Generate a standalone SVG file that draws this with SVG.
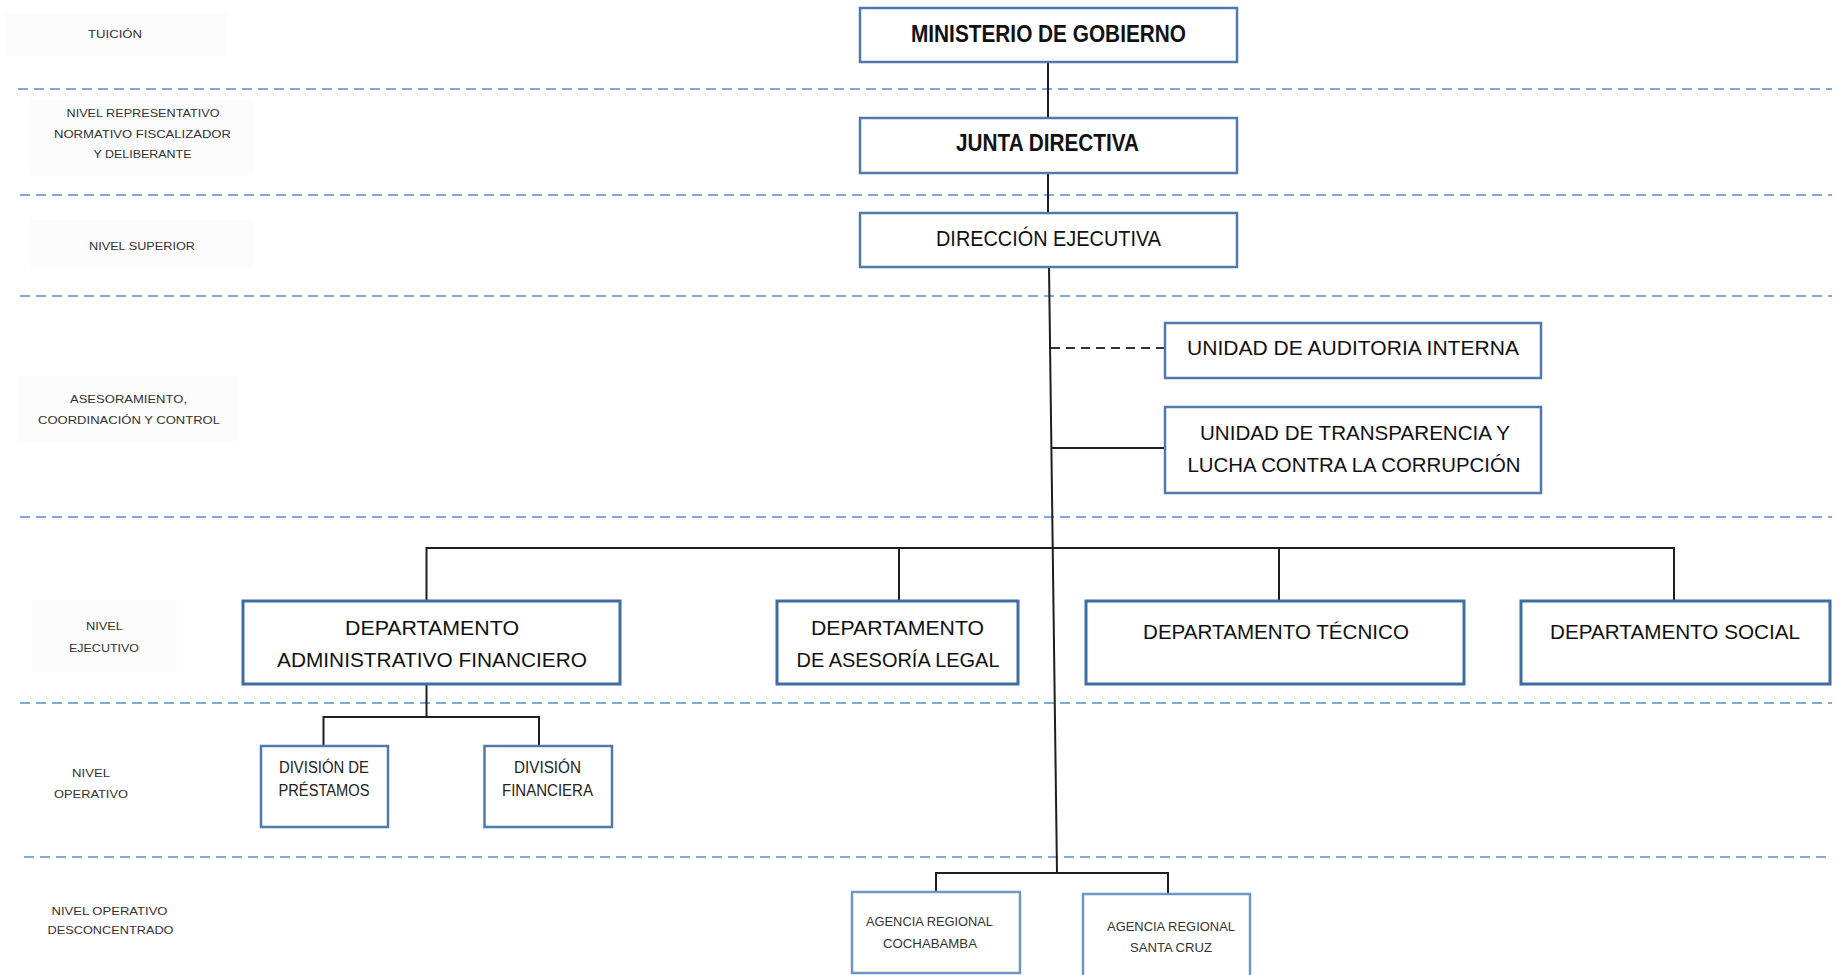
<svg xmlns="http://www.w3.org/2000/svg" width="1835" height="975" viewBox="0 0 1835 975">
<style>
.bg{fill:#ffffff}
.lvl{stroke:#7eabdd;stroke-width:2.2;stroke-dasharray:10 6;fill:none}
.lblbg{fill:#fcfcfc}
.lbl{font-family:"Liberation Sans",Arial,sans-serif;font-size:11.5px;fill:#333;text-anchor:middle}
.box{fill:#ffffff;stroke:#4f7aab;stroke-width:2.5}
.boxd{fill:#ffffff;stroke:#3e6da3;stroke-width:3}
.boxl{fill:#ffffff;stroke:#6f97c6;stroke-width:2.5}
.t{font-family:"Liberation Sans",Arial,sans-serif;fill:#111;text-anchor:middle}
.tb{font-size:23px;font-weight:bold}
.tm{font-size:22.5px}
.td{font-size:21px}
.ts{font-size:16px;fill:#222}
.tx{font-size:13px;fill:#333}
.c{stroke:#1e1e1e;stroke-width:2;fill:none}
.cd{stroke:#333;stroke-width:2;stroke-dasharray:9 6;fill:none}
</style>
<rect class="bg" x="0" y="0" width="1835" height="975"/>

<g id="levels">
<rect class="lblbg" x="5" y="13" width="222" height="43"/>
<rect class="lblbg" x="30" y="100" width="223" height="75"/>
<rect class="lblbg" x="30" y="220" width="223" height="50"/>
<rect class="lblbg" x="18" y="377" width="220" height="65"/>
<rect class="lblbg" x="32" y="600" width="145" height="72"/>
<line class="lvl" x1="18" y1="89" x2="1832" y2="89"/>
<line class="lvl" x1="20" y1="195" x2="1832" y2="195"/>
<line class="lvl" x1="20" y1="296" x2="1832" y2="296"/>
<line class="lvl" x1="20" y1="517" x2="1832" y2="517"/>
<line class="lvl" x1="20" y1="703" x2="1832" y2="703"/>
<line class="lvl" x1="24" y1="857" x2="1832" y2="857"/>
<text class="lbl" x="115" y="38" textLength="54" lengthAdjust="spacingAndGlyphs">TUICIÓN</text>
<text class="lbl" x="143" y="117" textLength="153" lengthAdjust="spacingAndGlyphs">NIVEL REPRESENTATIVO</text>
<text class="lbl" x="142.5" y="138" textLength="177" lengthAdjust="spacingAndGlyphs">NORMATIVO FISCALIZADOR</text>
<text class="lbl" x="142.5" y="158" textLength="98" lengthAdjust="spacingAndGlyphs">Y DELIBERANTE</text>
<text class="lbl" x="142" y="250" textLength="106" lengthAdjust="spacingAndGlyphs">NIVEL SUPERIOR</text>
<text class="lbl" x="128.5" y="403" textLength="117" lengthAdjust="spacingAndGlyphs">ASESORAMIENTO,</text>
<text class="lbl" x="129" y="424" textLength="182" lengthAdjust="spacingAndGlyphs">COORDINACIÓN Y CONTROL</text>
<text class="lbl" x="104.5" y="630" textLength="37" lengthAdjust="spacingAndGlyphs">NIVEL</text>
<text class="lbl" x="104" y="652" textLength="70" lengthAdjust="spacingAndGlyphs">EJECUTIVO</text>
<text class="lbl" x="91" y="777" textLength="38" lengthAdjust="spacingAndGlyphs">NIVEL</text>
<text class="lbl" x="91" y="798" textLength="74" lengthAdjust="spacingAndGlyphs">OPERATIVO</text>
<text class="lbl" x="109.5" y="915" textLength="116" lengthAdjust="spacingAndGlyphs">NIVEL OPERATIVO</text>
<text class="lbl" x="110.5" y="934" textLength="126" lengthAdjust="spacingAndGlyphs">DESCONCENTRADO</text>
</g>

<g id="connectors">
<line class="c" x1="1048" y1="62" x2="1048" y2="118"/>
<line class="c" x1="1048" y1="173" x2="1048" y2="213"/>
<line class="c" x1="1049" y1="267" x2="1057" y2="873"/>
<line class="cd" x1="1051" y1="348" x2="1165" y2="348"/>
<line class="c" x1="1051.5" y1="448" x2="1165" y2="448"/>
<polyline class="c" points="426.5,601 426.5,548 1674,548 1674,601"/>
<line class="c" x1="899" y1="548" x2="899" y2="601"/>
<line class="c" x1="1279" y1="548" x2="1279" y2="601"/>
<line class="c" x1="426.5" y1="684" x2="426.5" y2="717"/>
<polyline class="c" points="323.5,746 323.5,717 539,717 539,746"/>
<polyline class="c" points="936,892 936,873 1168,873 1168,894"/>
</g>

<g id="ministerio">
<rect class="box" x="860" y="8" width="377" height="54"/>
<text class="t tb" x="1048.5" y="42" textLength="275" lengthAdjust="spacingAndGlyphs">MINISTERIO DE GOBIERNO</text>
</g>
<g id="junta">
<rect class="box" x="860" y="118" width="377" height="55"/>
<text class="t tb" x="1047.5" y="151" textLength="183" lengthAdjust="spacingAndGlyphs">JUNTA DIRECTIVA</text>
</g>
<g id="direccion">
<rect class="box" x="860" y="213" width="377" height="54"/>
<text class="t tm" x="1048.5" y="246" textLength="225" lengthAdjust="spacingAndGlyphs">DIRECCIÓN EJECUTIVA</text>
</g>
<g id="auditoria">
<rect class="box" x="1165" y="323" width="376" height="55"/>
<text class="t td" x="1353" y="355" textLength="332" lengthAdjust="spacingAndGlyphs">UNIDAD DE AUDITORIA INTERNA</text>
</g>
<g id="transparencia">
<rect class="box" x="1165" y="407" width="376" height="86"/>
<text class="t td" x="1355" y="440" textLength="310" lengthAdjust="spacingAndGlyphs">UNIDAD DE TRANSPARENCIA Y</text>
<text class="t td" x="1354" y="472" textLength="333" lengthAdjust="spacingAndGlyphs">LUCHA CONTRA LA CORRUPCIÓN</text>
</g>
<g id="dep-admin">
<rect class="boxd" x="243" y="601" width="377" height="83"/>
<text class="t td" x="432" y="635" textLength="174" lengthAdjust="spacingAndGlyphs">DEPARTAMENTO</text>
<text class="t td" x="432" y="667" textLength="310" lengthAdjust="spacingAndGlyphs">ADMINISTRATIVO FINANCIERO</text>
</g>
<g id="dep-legal">
<rect class="boxd" x="777" y="601" width="241" height="83"/>
<text class="t td" x="897.5" y="635" textLength="173" lengthAdjust="spacingAndGlyphs">DEPARTAMENTO</text>
<text class="t td" x="898" y="667" textLength="203" lengthAdjust="spacingAndGlyphs">DE ASESORÍA LEGAL</text>
</g>
<g id="dep-tecnico">
<rect class="boxd" x="1086" y="601" width="378" height="83"/>
<text class="t td" x="1276" y="639" textLength="266" lengthAdjust="spacingAndGlyphs">DEPARTAMENTO TÉCNICO</text>
</g>
<g id="dep-social">
<rect class="boxd" x="1521" y="601" width="309" height="83"/>
<text class="t td" x="1675" y="639" textLength="250" lengthAdjust="spacingAndGlyphs">DEPARTAMENTO SOCIAL</text>
</g>
<g id="div-prestamos">
<rect class="box" x="261" y="746" width="127" height="81"/>
<text class="t ts" x="324" y="773" textLength="90" lengthAdjust="spacingAndGlyphs">DIVISIÓN DE</text>
<text class="t ts" x="324" y="796" textLength="91" lengthAdjust="spacingAndGlyphs">PRÉSTAMOS</text>
</g>
<g id="div-financiera">
<rect class="box" x="484.5" y="746" width="127.5" height="81"/>
<text class="t ts" x="547.5" y="773" textLength="67" lengthAdjust="spacingAndGlyphs">DIVISIÓN</text>
<text class="t ts" x="547.5" y="796" textLength="91" lengthAdjust="spacingAndGlyphs">FINANCIERA</text>
</g>
<g id="agencia-cbba">
<rect class="boxl" x="852" y="892" width="168" height="81"/>
<text class="t tx" x="929.5" y="926" textLength="127" lengthAdjust="spacingAndGlyphs">AGENCIA REGIONAL</text>
<text class="t tx" x="930" y="948" textLength="94" lengthAdjust="spacingAndGlyphs">COCHABAMBA</text>
</g>
<g id="agencia-scz">
<rect class="boxl" x="1083" y="894" width="167" height="84"/>
<text class="t tx" x="1171" y="931" textLength="128" lengthAdjust="spacingAndGlyphs">AGENCIA REGIONAL</text>
<text class="t tx" x="1171" y="952" textLength="82" lengthAdjust="spacingAndGlyphs">SANTA CRUZ</text>
</g>
</svg>
